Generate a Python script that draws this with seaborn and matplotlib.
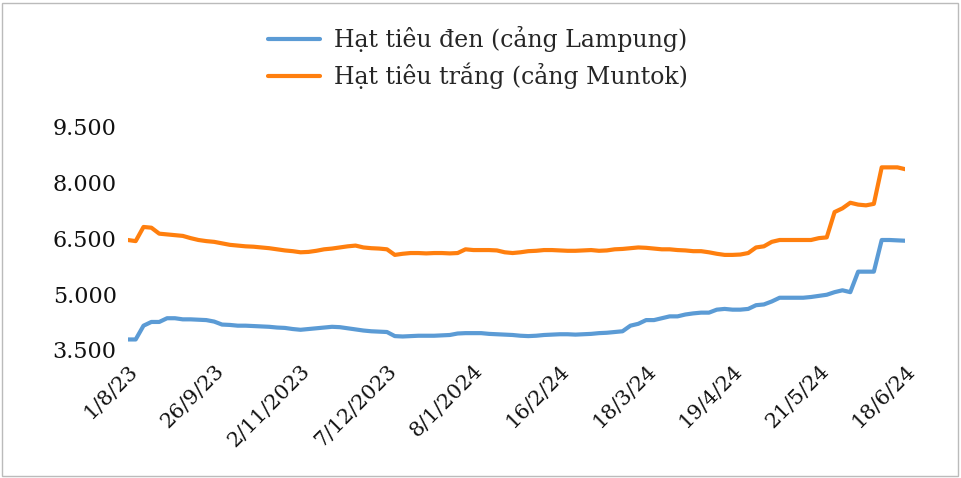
import matplotlib
matplotlib.use("Agg")
import matplotlib.pyplot as plt
import seaborn as sns
import pandas as pd
import numpy as np
from matplotlib.patches import Rectangle

black_pepper = [3780,3780,4150,4250,4250,4350,4350,4320,4320,4310,4300,4260,4180,4170,4150,4150,4140,4130,4120,4100,
4090,4060,4040,4060,4080,4100,4120,4110,4080,4050,4020,4000,3990,3980,3870,3860,3870,3880,3880,3880,
3890,3900,3940,3950,3950,3950,3930,3920,3910,3900,3880,3870,3880,3900,3910,3920,3920,3910,3920,3930,
3950,3960,3980,4000,4150,4200,4300,4300,4350,4400,4400,4450,4480,4500,4500,4580,4600,4580,4580,4600,
4700,4720,4800,4900,4900,4900,4900,4920,4950,4980,5050,5100,5050,5600,5600,5600,6450,6450,6440,6430]
white_pepper = [6450,6420,6800,6780,6620,6600,6580,6560,6500,6450,6420,6400,6360,6320,6300,6280,6270,6250,6230,6200,
6170,6150,6120,6130,6160,6200,6220,6250,6280,6300,6250,6230,6220,6200,6050,6080,6100,6100,6090,6100,
6100,6090,6100,6200,6180,6180,6180,6170,6120,6100,6120,6150,6160,6180,6180,6170,6160,6160,6170,6180,
6160,6170,6200,6210,6230,6250,6240,6220,6200,6200,6180,6170,6150,6150,6120,6080,6050,6050,6060,6100,
6250,6280,6400,6450,6450,6450,6450,6450,6500,6520,7200,7300,7450,7400,7380,7420,8400,8400,8400,8350]
tick_labels = ["1/8/23","26/9/23","2/11/2023","7/12/2023","8/1/2024","16/2/24","18/3/24","19/4/24","21/5/24","18/6/24"]
y_ticks = [3500,5000,6500,8000,9500]

sns.set_theme(style="white")
plt.rcParams['font.family'] = ['DejaVu Serif']

n = len(black_pepper)
df = pd.DataFrame({"idx": list(range(n))*2,
                   "val": black_pepper + white_pepper,
                   "series": ["Hạt tiêu đen (cảng Lampung)"]*n + ["Hạt tiêu trắng (cảng Muntok)"]*n})

fig = plt.figure(figsize=(9.61, 4.78), dpi=100)
ax = fig.add_axes([0.133, 0.268, 0.809, 0.491])
sns.lineplot(data=df, x="idx", y="val", hue="series",
             palette=["#5B9BD5", "#FF7F0E"], linewidth=3, ax=ax, legend=True)
ax.set_ylim(3500, 9800)
ax.set_xlim(0, n-1)
ax.set_yticks(y_ticks)
ax.set_yticklabels([f"{v:,}".replace(",", ".") for v in y_ticks], fontsize=16, color="#111111")
pos = np.linspace(0, n-1, len(tick_labels))
ax.set_xticks(pos)
ax.set_xticklabels(tick_labels, rotation=45, ha="right", rotation_mode="anchor", fontsize=15, color="#111111")
ax.set_xlabel(""); ax.set_ylabel("")
ax.tick_params(length=0, pad=8)
for s in ax.spines.values():
    s.set_visible(False)
ax.legend(loc="lower center", bbox_to_anchor=(0.45, 1.02), frameon=False, fontsize=17,
          handlelength=2.2, labelspacing=0.45, handletextpad=0.6)
fig.patches.append(Rectangle((0.002, 0.004), 0.995, 0.99, transform=fig.transFigure,
                             fill=False, edgecolor="#bbbbbb", linewidth=1))
fig.savefig("out.png", dpi=100)
